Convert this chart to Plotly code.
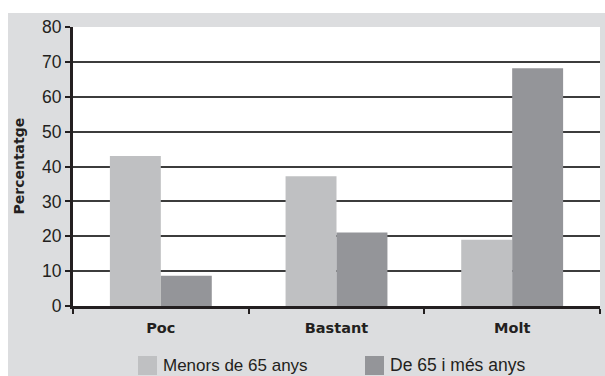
import plotly.graph_objects as go

categories = ["Poc", "Bastant", "Molt"]
menors_65 = [43.0, 37.2, 19.0]
de_65_mes = [8.7, 21.1, 68.2]
series_names = ["Menors de 65 anys", "De 65 i més anys"]
y_ticks = [0, 10, 20, 30, 40, 50, 60, 70, 80]

C_LIGHT = "#bfc0c2"
C_DARK = "#949599"
C_PANEL = "#dcdddf"
C_LINE = "#231f20"
C_GRID = "#3c3c3c"
FONT = "Liberation Sans, Arial, sans-serif"
FONT_B = "DejaVu Sans, Liberation Sans, sans-serif"

# plot area in pixels: x 73..600, y 27..306
L, R, T, B = 73, 5, 27, 70
W, H = 605, 376
PW = W - L - R
PH = H - T - B

def px(x):
    return (x - L) / PW

def py(y):
    return (H - B - y) / PH

fig = go.Figure()
fig.add_trace(go.Bar(x=categories, y=menors_65, name=series_names[0],
                     marker=dict(color=C_LIGHT, line=dict(width=0)), showlegend=False))
fig.add_trace(go.Bar(x=categories, y=de_65_mes, name=series_names[1],
                     marker=dict(color=C_DARK, line=dict(width=0)), showlegend=False))

shapes = [
    # white strip at top and left (outside the grey panel)
    dict(type="rect", xref="paper", yref="paper", x0=-0.3, x1=1.3, y0=py(13), y1=1.3,
         fillcolor="white", line=dict(width=0), layer="below"),
    dict(type="rect", xref="paper", yref="paper", x0=-0.3, x1=px(8), y0=-0.4, y1=1.3,
         fillcolor="white", line=dict(width=0), layer="below"),
    # legend swatches
    dict(type="rect", xref="paper", yref="paper", x0=px(138), x1=px(157), y0=py(375), y1=py(356),
         fillcolor=C_LIGHT, line=dict(width=0)),
    dict(type="rect", xref="paper", yref="paper", x0=px(365), x1=px(384), y0=py(375), y1=py(356),
         fillcolor=C_DARK, line=dict(width=0)),
]

annotations = [
    dict(text="Percentatge", xref="paper", yref="paper", x=px(18), y=0.5, textangle=-90,
         showarrow=False, font=dict(family=FONT_B, size=14, color=C_LINE, weight="bold"),
         xanchor="center", yanchor="middle"),
    dict(text=series_names[0], xref="paper", yref="paper", x=px(161), y=py(365),
         showarrow=False, xanchor="left", yanchor="middle",
         font=dict(family=FONT, size=17, color=C_LINE)),
    dict(text=series_names[1], xref="paper", yref="paper", x=px(388), y=py(365),
         showarrow=False, xanchor="left", yanchor="middle",
         font=dict(family=FONT, size=17.5, color=C_LINE)),
]

fig.update_layout(
    width=W, height=H,
    margin=dict(l=L, r=R, t=T, b=B),
    paper_bgcolor=C_PANEL,
    plot_bgcolor="white",
    barmode="group",
    bargap=0.42,
    bargroupgap=0,
    shapes=shapes,
    annotations=annotations,
    showlegend=False,
    xaxis=dict(
        showline=True, linecolor=C_LINE, linewidth=3,
        ticks="outside", tickson="boundaries", ticklen=5, tickwidth=2, tickcolor=C_LINE,
        tickfont=dict(family=FONT_B, size=14.5, color=C_LINE, weight="bold"),
        ticklabelstandoff=7,
        showgrid=False, zeroline=False, fixedrange=True,
    ),
    yaxis=dict(
        range=[0, 80], tickvals=y_ticks,
        showline=True, linecolor=C_LINE, linewidth=3,
        ticks="outside", ticklen=5, tickwidth=2, tickcolor=C_LINE,
        tickfont=dict(family=FONT, size=17.5, color=C_LINE),
        showgrid=True, gridcolor=C_GRID, gridwidth=2,
        zeroline=False, fixedrange=True,
    ),
)

fig.write_html(
    "out.html",
    config={"displayModeBar": False},
    post_script="document.body.style.margin='0';document.body.style.overflow='hidden';",
)
